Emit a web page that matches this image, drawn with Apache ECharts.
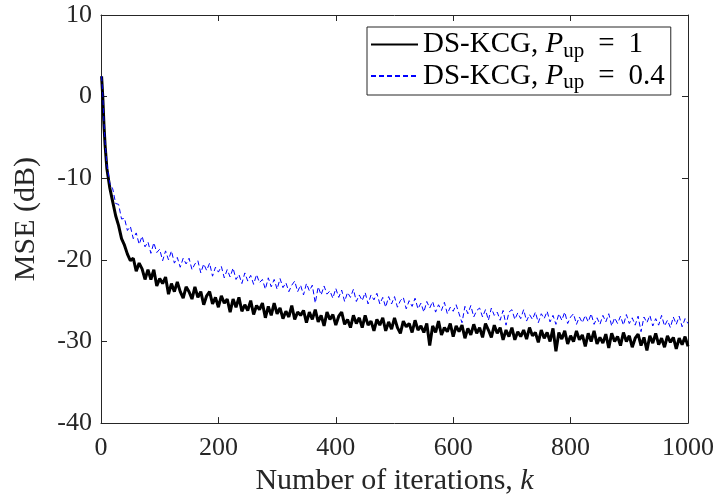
<!DOCTYPE html>
<html>
<head>
<meta charset="utf-8">
<script src="https://cdn.jsdelivr.net/npm/echarts@6/dist/echarts.min.js"></script>
<style>
html,body{margin:0;padding:0;background:#fff;}
#chart{width:721px;height:501px;}
</style>
</head>
<body>
<div id="chart"></div>
<script>
// iterations (x values)
var iterations = [1,3,5,7,10,15,20,25,30,35,40,45,50,55,60,65,70,75,80,85,90,95,100,
105,110,115,120,125,130,135,140,145,150,155,160,165,170,175,180,185,190,195,200,
205,210,215,220,225,230,235,240,245,250,255,260,265,270,275,280,285,290,295,300,
305,310,315,320,325,330,335,340,345,350,355,360,365,370,375,380,385,390,395,400,
405,410,415,420,425,430,435,440,445,450,455,460,465,470,475,480,485,490,495,500,
505,510,515,520,525,530,535,540,545,550,555,560,565,570,575,580,585,590,595,600,
605,610,615,620,625,630,635,640,645,650,655,660,665,670,675,680,685,690,695,700,
705,710,715,720,725,730,735,740,745,750,755,760,765,770,775,780,785,790,795,800,
805,810,815,820,825,830,835,840,845,850,855,860,865,870,875,880,885,890,895,900,
905,910,915,920,925,930,935,940,945,950,955,960,965,970,975,980,985,990,995,1000];

// MSE (dB), DS-KCG, P_up = 1
var mseFull = [2.5,0.0,-3.4,-6.0,-8.8,-11.2,-12.9,-14.6,-15.8,-17.4,-18.2,-19.3,-20.1,-19.8,-21.4,-20.4,-21.1,-22.4,-21.2,-22.4,-21.2,-23.2,-22.3,
-22.9,-22.1,-24.2,-22.9,-23.9,-22.7,-23.9,-24.7,-23.3,-23.9,-24.8,-23.3,-24.6,-23.9,-25.5,-24.4,-23.9,-25.4,-24.6,-25.8,
-24.4,-25.3,-24.8,-26.4,-24.8,-25.8,-24.6,-26.3,-25.5,-26.2,-25.0,-26.7,-25.6,-26.1,-25.3,-27.1,-25.7,-26.8,-25.3,-26.6,
-25.9,-27.2,-26.3,-27.0,-25.6,-27.3,-26.4,-26.8,-26.2,-27.7,-26.4,-27.3,-26.1,-27.6,-26.8,-28.1,-26.4,-27.3,-26.7,-28.0,
-26.9,-26.4,-27.9,-27.3,-28.3,-26.8,-27.8,-27.1,-28.3,-26.8,-28.0,-27.5,-28.7,-27.3,-28.0,-27.1,-28.7,-27.6,-28.5,-27.1,
-28.3,-29.0,-27.5,-28.2,-27.8,-28.9,-27.4,-28.6,-28.1,-28.9,-27.8,-30.5,-28.1,-28.9,-27.5,-29.2,-28.3,-28.8,-27.8,-29.4,
-28.1,-28.8,-28.0,-29.6,-28.4,-29.2,-27.9,-29.0,-28.3,-29.5,-27.8,-28.6,-29.5,-28.0,-29.0,-28.3,-29.8,-28.6,-29.4,-28.3,
-29.8,-28.8,-29.4,-28.6,-29.7,-28.3,-29.3,-28.9,-30.1,-28.6,-29.6,-28.9,-30.0,-28.4,-31.2,-28.9,-29.7,-28.7,-30.3,-29.3,
-30.0,-28.7,-29.8,-29.2,-30.6,-29.0,-30.0,-28.7,-30.3,-29.5,-30.2,-29.1,-30.8,-29.0,-30.0,-29.4,-30.5,-28.9,-30.0,-29.3,
-30.7,-29.6,-29.1,-30.5,-29.5,-31.1,-29.3,-30.2,-29.0,-30.4,-29.6,-30.7,-29.3,-30.1,-29.5,-30.9,-29.6,-30.4,-29.4,-30.6];

// MSE (dB), DS-KCG, P_up = 0.4
var msePartial = [2.5,0.3,-3.1,-5.6,-8.3,-10.6,-11.3,-13.1,-13.2,-15.0,-14.9,-16.4,-15.9,-17.4,-16.7,-18.1,-17.1,-18.4,-17.8,-19.2,-17.9,-19.1,-18.7,
-20.1,-18.9,-20.0,-18.9,-20.4,-19.7,-20.9,-19.8,-20.5,-19.8,-21.2,-20.5,-20.1,-21.6,-20.5,-21.3,-20.4,-22.0,-20.9,-21.5,
-20.8,-22.2,-21.2,-22.1,-21.0,-22.4,-21.8,-22.9,-21.6,-22.6,-21.9,-23.0,-21.8,-22.8,-22.4,-23.6,-22.2,-23.3,-22.4,-23.6,
-22.3,-23.4,-22.8,-23.9,-23.1,-22.6,-23.9,-23.1,-24.3,-22.9,-23.8,-23.1,-25.3,-23.3,-24.3,-23.2,-24.2,-23.8,-24.7,-23.5,
-24.6,-23.7,-25.1,-24.0,-24.6,-23.6,-25.1,-24.3,-25.0,-24.0,-25.4,-24.3,-24.9,-24.1,-25.4,-24.6,-25.8,-24.5,-25.4,-24.5,
-25.8,-25.0,-24.6,-26.0,-25.0,-25.7,-24.7,-26.0,-25.3,-26.4,-25.1,-25.9,-25.1,-26.4,-25.5,-26.2,-25.2,-26.6,-25.8,-26.3,
-25.5,-26.6,-27.7,-25.7,-26.6,-25.6,-27.0,-26.2,-25.9,-27.0,-26.1,-27.4,-25.9,-26.8,-26.4,-27.4,-26.2,-28.0,-26.4,-26.1,
-27.3,-26.5,-27.2,-26.1,-27.5,-26.7,-27.3,-26.4,-27.7,-26.6,-27.2,-26.3,-27.6,-26.8,-27.9,-26.6,-27.4,-26.4,-27.8,-27.0,
-26.6,-27.9,-27.0,-27.7,-26.8,-27.6,-26.6,-27.9,-27.1,-27.9,-26.8,-27.6,-26.6,-28.1,-27.1,-27.8,-26.9,-28.0,-26.7,-27.8,
-27.1,-28.0,-26.9,-28.8,-27.0,-27.7,-26.8,-28.1,-27.2,-28.0,-26.8,-28.1,-27.4,-28.3,-27.0,-27.9,-26.9,-28.2,-27.2,-27.8];

var seriesNames = ['full', 'partial'];
var legendParts = [['DS-KCG, ', 'P', 'up', '=', '1'], ['DS-KCG, ', 'P', 'up', '=', '0.4']];
var xTicks = {min: 0, max: 1000, step: 200};
var yTicks = {min: -40, max: 10, step: 10};

function pairs(xs, ys) { return xs.map(function (x, i) { return [x, ys[i]]; }); }

var FONT = 'Liberation Serif';
var AX = '#262626';

var chart = echarts.init(document.getElementById('chart'), null, {renderer: 'canvas'});

var baseX = {
  type: 'value', min: xTicks.min, max: xTicks.max, interval: xTicks.step,
  axisLine: {show: true, onZero: false, lineStyle: {color: AX, width: 1}},
  axisTick: {show: true, inside: true, length: 6, lineStyle: {color: AX}},
  splitLine: {show: false}
};
var baseY = {
  type: 'value', min: yTicks.min, max: yTicks.max, interval: yTicks.step,
  axisLine: {show: true, onZero: false, lineStyle: {color: AX, width: 1}},
  axisTick: {show: true, inside: true, length: 6, lineStyle: {color: AX}},
  splitLine: {show: false}
};

chart.setOption({
  animation: false,
  backgroundColor: '#ffffff',
  grid: {left: 101, right: 33, top: 15, bottom: 73, containLabel: false},
  xAxis: [
    Object.assign({}, baseX, {
      position: 'bottom',
      axisLabel: {show: true, color: AX, fontFamily: FONT, fontSize: 26, margin: 12,
        formatter: function (v) { return String(v); }},
      name: '{n|Number of iterations, }{i|k}',
      nameLocation: 'middle', nameGap: 37,
      nameTextStyle: {
        rich: {
          n: {fontFamily: FONT, fontSize: 30, color: AX},
          i: {fontFamily: FONT, fontSize: 30, color: AX, fontStyle: 'italic'}
        }
      }
    }),
    Object.assign({}, baseX, {position: 'top', axisLabel: {show: false}})
  ],
  yAxis: [
    Object.assign({}, baseY, {
      position: 'left',
      axisLabel: {show: true, color: AX, fontFamily: FONT, fontSize: 26, margin: 9},
      name: 'MSE (dB)',
      nameLocation: 'middle', nameGap: 60,
      nameTextStyle: {fontFamily: FONT, fontSize: 30, color: AX}
    }),
    Object.assign({}, baseY, {position: 'right', axisLabel: {show: false}})
  ],
  legend: {
    show: true,
    left: 367, top: 27,
    orient: 'vertical',
    data: seriesNames,
    backgroundColor: '#ffffff',
    borderColor: AX, borderWidth: 1,
    padding: [3, 6, 2, 3],
    itemGap: 0,
    itemWidth: 47, itemHeight: 14,
    itemStyle: {opacity: 0},
    formatter: function (name) {
      var p = legendParts[seriesNames.indexOf(name)];
      return '{n|' + p[0] + '}{i|' + p[1] + '}{s|' + p[2] + '}{e|' + p[3] + '}{n|' + p[4] + '}';
    },
    textStyle: {
      rich: {
        n: {fontFamily: FONT, fontSize: 29, color: '#000', height: 32},
        i: {fontFamily: FONT, fontSize: 29, color: '#000', fontStyle: 'italic', height: 32},
        s: {fontFamily: FONT, fontSize: 21, color: '#000', padding: [13, 0, 0, 0], height: 32},
        e: {fontFamily: FONT, fontSize: 29, color: '#000', padding: [0, 14, 0, 14], height: 32}
      }
    }
  },
  series: [
    {
      name: seriesNames[0], type: 'line', xAxisIndex: 0, yAxisIndex: 0,
      data: pairs(iterations, mseFull),
      showSymbol: false, symbol: 'none',
      lineStyle: {color: '#000000', width: 3, type: 'solid'},
      itemStyle: {color: '#000000'}
    },
    {
      name: seriesNames[1], type: 'line', xAxisIndex: 0, yAxisIndex: 0,
      data: pairs(iterations, msePartial),
      showSymbol: false, symbol: 'none',
      lineStyle: {color: '#0000ff', width: 1, type: [5, 3]},
      itemStyle: {color: '#0000ff'}
    }
  ]
});
</script>
</body>
</html>
